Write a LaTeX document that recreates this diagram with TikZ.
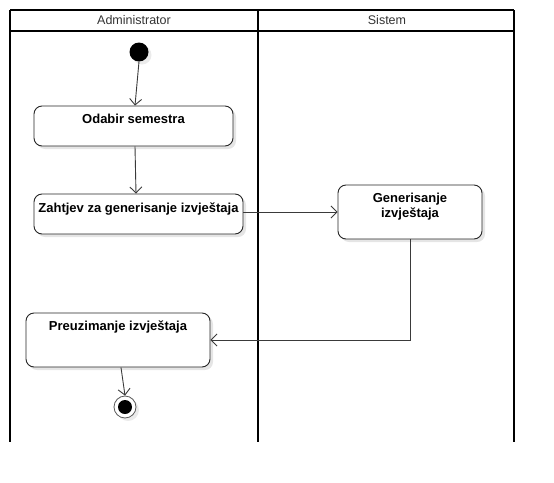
\documentclass[tikz,border=0pt]{standalone}
\usepackage{fontspec}
\setmainfont{Liberation Sans}
\usetikzlibrary{arrows.meta,shadows}
\definecolor{conn}{HTML}{3A3A3A}
\definecolor{hdr}{HTML}{333333}
\tikzset{
  lane/.style={line width=2pt,black},
  act/.style={draw=black!85,line width=0.9pt,rounded corners=8pt,fill=white,
    drop shadow={shadow xshift=3pt,shadow yshift=-3pt,fill=black!10,opacity=1},inner sep=0pt},
  acttext/.style={font=\bfseries\fontsize{13}{14}\selectfont,align=center,inner sep=0pt,anchor=north},
  hdrtext/.style={font=\fontsize{12.5}{14}\selectfont,text=hdr,inner sep=0pt},
  flow/.style={draw=conn,line width=0.9pt,-{Straight Barb[length=6pt,width=12pt,line width=0.9pt]}},
}
\begin{document}
\begin{tikzpicture}[x=1pt,y=-1pt]
\useasboundingbox (0,0) rectangle (554,482);
% pool
\draw[lane] (10,10) -- (514,10);
\draw[lane] (10,31) -- (514,31);
\draw[lane] (10,10) -- (10,442);
\draw[lane] (258,10) -- (258,442);
\draw[lane] (514,10) -- (514,442);
\node[hdrtext] (h1) at (134,20.5) {Administrator};
\node[hdrtext] (h2) at (387,20.5) {Sistem};
% start
\node[circle,fill=black,minimum size=19pt,inner sep=0pt,
  drop shadow={shadow xshift=3pt,shadow yshift=-3pt,fill=black!8,opacity=1}] (s) at (139,52) {};
% activities
\node[act,minimum width=199pt,minimum height=40pt] (a1) at (133.5,126) {};
\node[acttext] (t1) at ([yshift=-8.5pt]a1.north) {Odabir semestra};
\node[act,minimum width=209pt,minimum height=40pt] (a2) at (138.5,214) {};
\node[acttext] (t2) at ([yshift=-9pt]a2.north) {Zahtjev za generisanje izvještaja};
\node[act,minimum width=144pt,minimum height=54pt] (a3) at (410,212) {};
\node[acttext,font=\bfseries\fontsize{13}{14.5}\selectfont] (t3) at ([yshift=-8.5pt]a3.north) {Generisanje\\izvještaja};
\node[act,minimum width=184pt,minimum height=54pt] (a4) at (118,340) {};
\node[acttext] (t4) at ([yshift=-8.5pt]a4.north) {Preuzimanje izvještaja};
% end
\node[circle,draw=black!65,line width=0.8pt,fill=white,minimum size=22pt,inner sep=0pt,
  drop shadow={shadow xshift=3pt,shadow yshift=-3pt,fill=black!8,opacity=1}] (e) at (125,407) {};
\node[circle,fill=black,minimum size=14pt,inner sep=0pt] (ei) at (e.center) {};
% flows
\draw[flow] (s.south) -- ([xshift=1.5pt]a1.north);
\draw[flow] ([xshift=1.5pt]a1.south) -- ([xshift=-2.5pt]a2.north);
\draw[flow] (a3.west -| a2.east) -- (a3.west);
\draw[flow] (a3.south) |- (a4.east);
\draw[flow] ([xshift=3pt]a4.south) -- (e.north);
\end{tikzpicture}
\end{document}
